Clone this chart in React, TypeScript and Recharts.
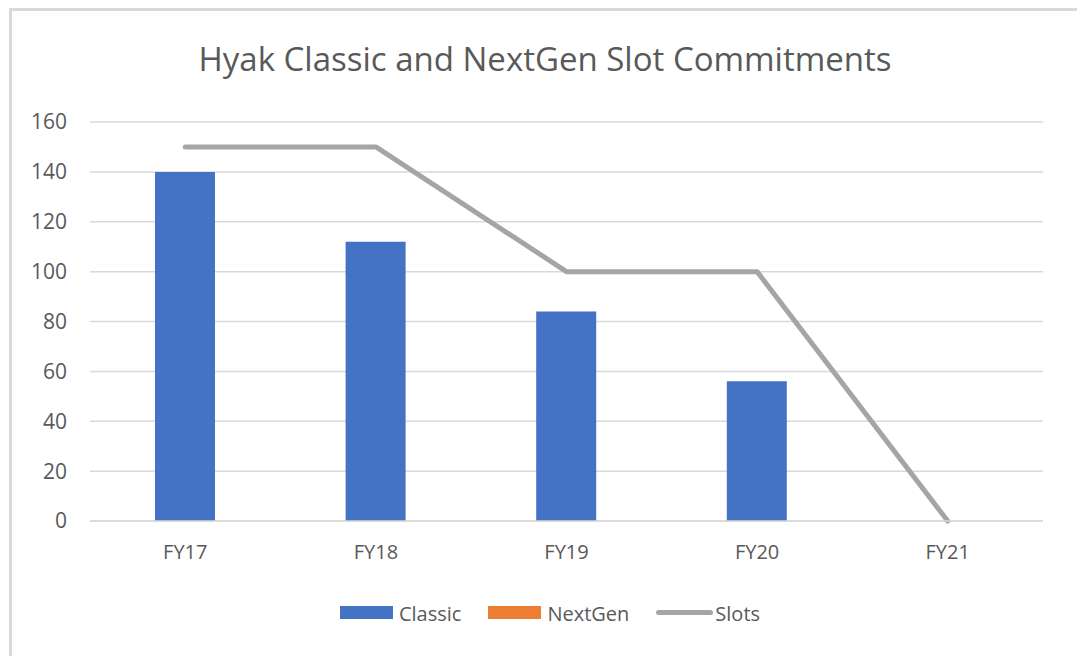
import { ComposedChart, Bar, Line, XAxis, YAxis, CartesianGrid } from "recharts";

const years = ["FY17", "FY18", "FY19", "FY20", "FY21"];
const classic = [140, 112, 84, 56, 0];
const nextGen = [0, 0, 0, 0, 0];
const slots = [150, 150, 100, 100, 0];
const yTicks = [0, 20, 40, 60, 80, 100, 120, 140, 160];

const data = years.map((y, i) => ({ year: y, Classic: classic[i], NextGen: nextGen[i], Slots: slots[i] }));

const TEXT = "#595959";
const GRID = "#d9d9d9";

// Excel 风格的图例：方块 + 线段
function ExcelLegend() {
  const items = [
    { name: "Classic", color: "#4472C4", kind: "box" },
    { name: "NextGen", color: "#ED7D31", kind: "box" },
    { name: "Slots", color: "#A5A5A5", kind: "line" },
  ];
  return (
    <div style={{ display: "flex", justifyContent: "center", gap: 27, fontSize: 20, lineHeight: "20px", color: TEXT }}>
      {items.map((it) => (
        <div key={it.name} style={{ display: "flex", alignItems: "center" }}>
          {it.kind === "box" ? (
            <span style={{ width: 53, height: 13, background: it.color, marginRight: 6 }} />
          ) : (
            <span style={{ width: 57, height: 5, borderRadius: 3, background: it.color, marginRight: 2 }} />
          )}
          <span style={{ marginTop: 3 }}>{it.name}</span>
        </div>
      ))}
    </div>
  );
}

export default function App() {
  return (
    <div
      style={{
        position: "fixed",
        left: 0,
        top: 0,
        width: 1077,
        height: 656,
        overflow: "hidden",
        background: "#fff",
        fontFamily: "'Open Sans', sans-serif",
      }}
    >
      <div
        style={{
          position: "absolute",
          left: 9,
          top: 8,
          width: 1120,
          height: 700,
          border: `3px solid ${GRID}`,
          boxSizing: "border-box",
        }}
      />
      <div
        style={{
          position: "absolute",
          left: 0,
          width: 1090,
          top: 42,
          textAlign: "center",
          fontSize: 33,
          lineHeight: 1,
          color: TEXT,
        }}
      >
        Hyak Classic and NextGen Slot Commitments
      </div>
      <ComposedChart
        width={1077}
        height={656}
        data={data}
        margin={{ top: 122, right: 34, bottom: 105, left: 0 }}
        style={{ position: "absolute", left: 0, top: 0 }}
      >
        <CartesianGrid vertical={false} stroke={GRID} strokeWidth={1.5} />
        <XAxis
          dataKey="year"
          height={30}
          axisLine={{ stroke: GRID, strokeWidth: 1.5 }}
          tickLine={false}
          tickSize={0}
          tickMargin={24}
          tick={{ fill: TEXT, fontSize: 20 }}
        />
        <YAxis
          width={90}
          domain={[0, 160]}
          ticks={yTicks}
          axisLine={false}
          tickLine={false}
          tickSize={0}
          tickMargin={23}
          tick={{ fill: TEXT, fontSize: 21 }}
        />
        <Bar dataKey="Classic" stackId="a" fill="#4472C4" barSize={60} isAnimationActive={false} />
        <Bar dataKey="NextGen" stackId="a" fill="#ED7D31" barSize={60} isAnimationActive={false} />
        <Line
          dataKey="Slots"
          type="linear"
          stroke="#A5A5A5"
          strokeWidth={5}
          strokeLinecap="round"
          strokeLinejoin="round"
          dot={false}
          activeDot={false}
          isAnimationActive={false}
        />
      </ComposedChart>
      <div style={{ position: "absolute", left: 0, top: 601, width: 1100 }}>
        <ExcelLegend />
      </div>
    </div>
  );
}
